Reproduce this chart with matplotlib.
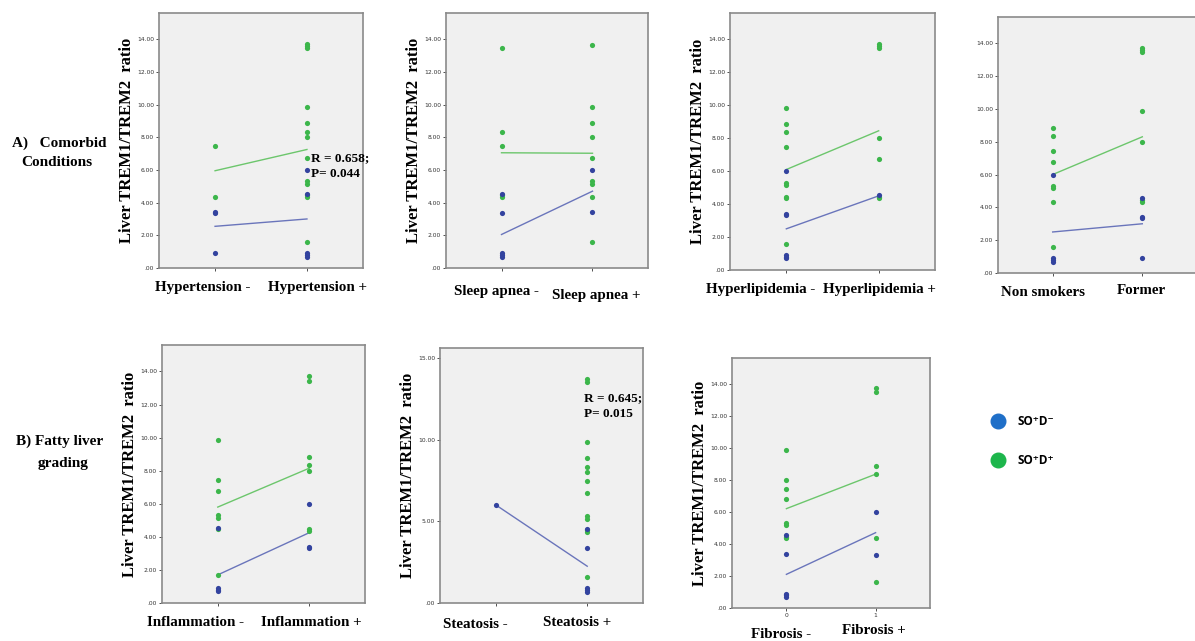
import matplotlib.pyplot as plt
from matplotlib.lines import Line2D
from matplotlib.ticker import FuncFormatter

W, H = 1195, 641

# x positions 0 / 1 = condition absent / present
# values = liver TREM1/TREM2 ratio, blue = SO+D-, green = SO+D+
hyp_labels = ['Hypertension -', 'Hypertension +']
hyp_blue = [[3.35, 3.4, 0.9], [6.0, 4.55, 0.9, 0.8, 0.7]]
hyp_green = [[7.45, 4.35], [13.7, 13.6, 13.45, 9.85, 8.85, 8.35, 8.0, 6.75, 5.3, 5.15, 4.45, 4.35, 1.6]]
hyp_blue_fit = [2.55, 3.0]
hyp_green_fit = [5.95, 7.25]

apnea_labels = ['Sleep apnea -', 'Sleep apnea +']
apnea_blue = [[4.55, 3.35, 0.9, 0.8, 0.7], [6.0, 3.4]]
apnea_green = [[13.45, 8.35, 7.45, 4.45, 4.35], [13.65, 9.85, 8.85, 8.0, 6.75, 5.3, 5.15, 4.35, 1.6]]
apnea_blue_fit = [2.05, 4.7]
apnea_green_fit = [7.05, 7.02]

lip_labels = ['Hyperlipidemia -', 'Hyperlipidemia +']
lip_blue = [[6.0, 3.4, 3.35, 0.9, 0.8, 0.7], [4.55]]
lip_green = [[9.85, 8.85, 8.35, 7.45, 5.3, 5.15, 4.45, 4.35, 1.6], [13.7, 13.6, 13.45, 8.0, 6.75, 4.45, 4.35]]
lip_blue_fit = [2.5, 4.5]
lip_green_fit = [6.1, 8.45]

smk_labels = ['Non smokers', 'Former']
smk_blue = [[6.0, 0.9, 0.8, 0.7], [4.55, 3.4, 3.35, 0.9]]
smk_green = [[8.85, 8.35, 7.45, 6.75, 5.3, 5.15, 4.35, 1.6], [13.7, 13.6, 13.45, 9.85, 8.0, 4.45, 4.35]]
smk_blue_fit = [2.5, 3.0]
smk_green_fit = [6.0, 8.3]

inf_labels = ['Inflammation -', 'Inflammation +']
inf_blue = [[4.55, 0.9, 0.8, 0.7], [6.0, 3.4, 3.35]]
inf_green = [[9.85, 7.45, 6.75, 5.3, 5.15, 4.45, 1.7], [13.7, 13.45, 8.85, 8.35, 8.0, 4.45, 4.35]]
inf_blue_fit = [1.7, 4.25]
inf_green_fit = [5.8, 8.15]

ste_labels = ['Steatosis -', 'Steatosis +']
ste_blue = [[6.0], [4.55, 3.35, 0.9, 0.8, 0.7]]
ste_green = [[], [13.7, 13.5, 9.85, 8.85, 8.35, 8.0, 7.45, 6.75, 5.3, 5.15, 4.45, 4.35, 1.6]]
ste_blue_fit = [6.0, 2.25]
ste_green_fit = None

fib_labels = ['Fibrosis -', 'Fibrosis +']
fib_blue = [[4.55, 3.35, 0.9, 0.8, 0.7], [6.0, 3.3]]
fib_green = [[9.85, 8.0, 7.45, 6.8, 5.3, 5.15, 4.45, 4.35], [13.7, 13.5, 8.85, 8.35, 4.35, 1.6]]
fib_blue_fit = [2.1, 4.7]
fib_green_fit = [6.2, 8.35]

stats_hyp = 'R = 0.658;\nP= 0.044'
stats_ste = 'R = 0.645;\nP= 0.015'

BLUE_PT = '#33439f'
GREEN_PT = '#3cb64b'
BLUE_LN = '#6a75bb'
GREEN_LN = '#6cc66c'
SERIF = 'Liberation Serif'

# layout in pixels: left, top, right, bottom of plot box
panels = [
    dict(box=(159, 13, 363, 268), labels=hyp_labels, blue=hyp_blue, green=hyp_green,
         bfit=hyp_blue_fit, gfit=hyp_green_fit, ylab=True, xoff=(-12, 11), yoff=(20, 20)),
    dict(box=(446, 13, 648, 268), labels=apnea_labels, blue=apnea_blue, green=apnea_green,
         bfit=apnea_blue_fit, gfit=apnea_green_fit, ylab=True, xoff=(-5, 4), yoff=(24, 27)),
    dict(box=(730, 13, 935, 270), labels=lip_labels, blue=lip_blue, green=lip_green,
         bfit=lip_blue_fit, gfit=lip_green_fit, ylab=True, xoff=(-26, 1), yoff=(20, 20)),
    dict(box=(998, 17, 1197, 273), labels=smk_labels, blue=smk_blue, green=smk_green,
         bfit=smk_blue_fit, gfit=smk_green_fit, ylab=False, xoff=(-10, -1), yoff=(20, 18)),
    dict(box=(162, 345, 365, 603), labels=inf_labels, blue=inf_blue, green=inf_green,
         bfit=inf_blue_fit, gfit=inf_green_fit, ylab=True, xoff=(-22, 2), yoff=(19, 19)),
    dict(box=(440, 348, 643, 603), labels=ste_labels, blue=ste_blue, green=ste_green,
         bfit=ste_blue_fit, gfit=ste_green_fit, ylab=True, xoff=(-20, -10), yoff=(22, 20), five=True),
    dict(box=(732, 358, 930, 608), labels=fib_labels, blue=fib_blue, green=fib_green,
         bfit=fib_blue_fit, gfit=fib_green_fit, ylab=True, xoff=(-5, -2), yoff=(26, 22), zero_one=True),
]

fig = plt.figure(figsize=(W / 100, H / 100), dpi=100)
fmt = FuncFormatter(lambda v, p: ('%.2f' % v).lstrip('0') if v < 1 else '%.2f' % v)

axes = []
for p in panels:
    l, t, r, b = p['box']
    ax = fig.add_axes([l / W, 1 - b / H, (r - l) / W, (b - t) / H])
    axes.append(ax)
    ax.set_facecolor('#f0f0f0')
    for s in ax.spines.values():
        s.set_color('#8a8a8a')
        s.set_linewidth(1.2)
    for g in (0, 1):
        ax.scatter([g] * len(p['green'][g]), p['green'][g], s=14, color=GREEN_PT, zorder=3, linewidths=0)
        ax.scatter([g] * len(p['blue'][g]), p['blue'][g], s=14, color=BLUE_PT, zorder=4, linewidths=0)
    if p['gfit'] is not None:
        ax.plot([0, 1], p['gfit'], color=GREEN_LN, lw=1.0, zorder=2)
    ax.plot([0, 1], p['bfit'], color=BLUE_LN, lw=1.0, zorder=2)

    ax.set_xlim(-0.61, 1.61)
    ax.set_ylim(0, 15.6)
    ax.set_xticks([0, 1])
    if p.get('zero_one'):
        ax.set_xticklabels(['0', '1'])
    else:
        ax.set_xticklabels(['', ''])
    ax.set_yticks([0, 5, 10, 15] if p.get('five') else range(0, 15, 2))
    ax.yaxis.set_major_formatter(fmt)
    ax.tick_params(labelsize=4.3, length=2.5, width=0.6, pad=1, colors='#333333')

    if p['ylab']:
        ax.set_ylabel('Liver TREM1/TREM2  ratio', fontsize=12, fontweight='bold', family=SERIF)
        ax.yaxis.set_label_coords(-24 / (r - l), 0.5)

    for g in (0, 1):
        ax.annotate(p['labels'][g], xy=(g, 0), xycoords=('data', 'axes fraction'),
                    xytext=(p['xoff'][g], -p['yoff'][g]), textcoords='offset pixels',
                    ha='center', va='center', fontsize=10.8, fontweight='bold', family=SERIF)

axes[0].text(1.04, 6.25, stats_hyp, fontsize=9.5, fontweight='bold', family=SERIF,
             va='center', ha='left', linespacing=1.4)
axes[5].text(0.97, 12.05, stats_ste, fontsize=9.5, fontweight='bold', family=SERIF,
             va='center', ha='left', linespacing=1.45)

# row headings
fig.text(12 / W, 1 - 143 / H, 'A)   Comorbid', fontsize=11, fontweight='bold', family=SERIF, va='center')
fig.text(57 / W, 1 - 163 / H, 'Conditions', fontsize=11, fontweight='bold', family=SERIF, va='center', ha='center')
fig.text(60 / W, 1 - 441 / H, 'B) Fatty liver', fontsize=11, fontweight='bold', family=SERIF, va='center', ha='center')
fig.text(63 / W, 1 - 463 / H, 'grading', fontsize=11, fontweight='bold', family=SERIF, va='center', ha='center')

handles = [Line2D([], [], ls='', marker='o', ms=10.5, color='#1f6fc8'),
           Line2D([], [], ls='', marker='o', ms=10.5, color='#1db64c')]
fig.legend(handles, ['SO⁺D⁻', 'SO⁺D⁺'], loc='center left', bbox_to_anchor=(976 / W, 1 - 441 / H),
           frameon=False, labelspacing=2.2, handletextpad=0.6,
           prop=dict(family=['Open Sans', 'DejaVu Sans'], weight='bold', size=8.5))

fig.savefig('out.png', dpi=100)
